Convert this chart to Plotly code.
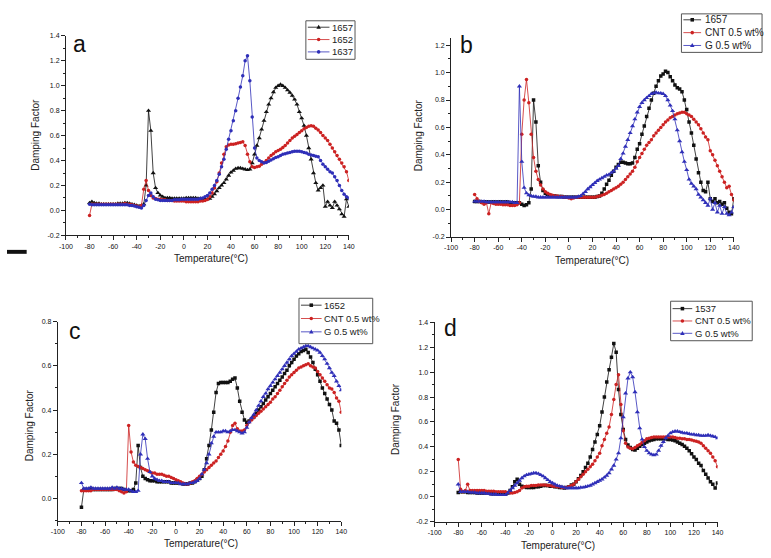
import plotly.graph_objects as go

FONT = "Arial, Liberation Sans, sans-serif"

TEMPS = [-80, -78, -76, -74, -72, -70, -68, -66, -64, -62,
         -60, -58, -56, -54, -52, -50, -48, -46, -44, -42,
         -40, -38, -36, -34, -32, -30, -28, -26, -24, -22,
         -20, -18, -16, -14, -12, -10, -8, -6, -4, -2,
         0, 2, 4, 6, 8, 10, 12, 14, 16, 18,
         20, 22, 24, 26, 28, 30, 32, 34, 36, 38,
         40, 42, 44, 46, 48, 50, 52, 54, 56, 58,
         60, 62, 64, 66, 68, 70, 72, 74, 76, 78,
         80, 82, 84, 86, 88, 90, 92, 94, 96, 98,
         100, 102, 104, 106, 108, 110, 112, 114, 116, 118,
         120, 122, 124, 126, 128, 130, 132, 134, 136, 138,
         140]

# ---- panel a ----
A_1657 = [0.06, 0.07, 0.06, 0.055, 0.055, 0.05, 0.05, 0.05, 0.05, 0.05,
          0.05, 0.05, 0.055, 0.055, 0.055, 0.06, 0.06, 0.055, 0.05, 0.045,
          0.04, 0.035, 0.04, 0.05, 0.2, 0.8, 0.64, 0.3, 0.18, 0.14,
          0.12, 0.11, 0.1, 0.1, 0.1, 0.095, 0.095, 0.095, 0.095, 0.095,
          0.095, 0.1, 0.1, 0.1, 0.1, 0.1, 0.095, 0.095, 0.09, 0.09,
          0.09, 0.095, 0.11, 0.13, 0.155, 0.18, 0.2, 0.22, 0.25, 0.28,
          0.305, 0.32, 0.335, 0.34, 0.34, 0.335, 0.33, 0.325, 0.33, 0.38,
          0.45, 0.52, 0.58, 0.65, 0.72, 0.79, 0.85, 0.9, 0.95, 0.985,
          1.0, 1.01, 1.0, 0.985, 0.965, 0.945, 0.92, 0.89, 0.85, 0.79,
          0.74, 0.68, 0.6, 0.5, 0.41, 0.3, 0.22, 0.16, 0.18, 0.2,
          0.03, 0.07, 0.04, 0.02, 0.07, 0.04, 0.01, -0.03, -0.05, 0.09,
          0.03]
A_1652 = [-0.04, 0.05, 0.05, 0.05, 0.05, 0.05, 0.05, 0.05, 0.05, 0.05,
          0.05, 0.05, 0.05, 0.05, 0.05, 0.055, 0.05, 0.05, 0.045, 0.04,
          0.035, 0.03, 0.04, 0.17, 0.24, 0.16, 0.12, 0.1, 0.095, 0.09,
          0.09, 0.085, 0.085, 0.08, 0.08, 0.08, 0.075, 0.075, 0.075, 0.075,
          0.075, 0.07, 0.07, 0.07, 0.07, 0.07, 0.07, 0.075, 0.075, 0.08,
          0.087, 0.11, 0.14, 0.18, 0.23, 0.3, 0.38, 0.45, 0.51, 0.525,
          0.53, 0.53, 0.535, 0.54, 0.545, 0.55, 0.52, 0.45, 0.39, 0.35,
          0.345, 0.35, 0.355, 0.37, 0.385, 0.4, 0.42, 0.44, 0.455, 0.47,
          0.48, 0.49, 0.505, 0.52, 0.54, 0.56, 0.58, 0.595, 0.61, 0.625,
          0.64, 0.655, 0.665, 0.675, 0.68, 0.675, 0.66, 0.645, 0.625, 0.6,
          0.58, 0.56, 0.53, 0.5, 0.47, 0.44, 0.41, 0.38, 0.35, 0.31,
          0.24]
A_1637 = [0.05, 0.045, 0.045, 0.045, 0.045, 0.045, 0.045, 0.045, 0.045, 0.045,
          0.045, 0.045, 0.045, 0.045, 0.045, 0.045, 0.045, 0.04, 0.04, 0.035,
          0.03, 0.025, 0.02, 0.04, 0.08, 0.12, 0.14, 0.11, 0.09, 0.085,
          0.08, 0.08, 0.08, 0.08, 0.08, 0.08, 0.085, 0.085, 0.085, 0.09,
          0.09, 0.09, 0.09, 0.09, 0.09, 0.09, 0.09, 0.095, 0.1, 0.11,
          0.12, 0.14, 0.17, 0.2, 0.24, 0.29, 0.35, 0.41, 0.49, 0.57,
          0.64, 0.72, 0.8, 0.9, 0.99, 1.08, 1.2, 1.24, 1.04, 0.75,
          0.5, 0.42, 0.4, 0.39, 0.38, 0.385, 0.395, 0.405, 0.415, 0.425,
          0.43, 0.44, 0.45, 0.455, 0.46, 0.465, 0.47, 0.475, 0.475, 0.475,
          0.47, 0.465, 0.46, 0.45, 0.445, 0.44, 0.435, 0.43, 0.4, 0.37,
          0.35, 0.33, 0.31, 0.3, 0.27, 0.24, 0.2, 0.16, 0.13, 0.11,
          0.1]

# ---- panel b ----
B_1657 = [0.06, 0.06, 0.06, 0.055, 0.055, 0.055, 0.055, 0.055, 0.055, 0.055,
          0.055, 0.055, 0.055, 0.055, 0.055, 0.05, 0.05, 0.05, 0.05, 0.05,
          0.04, 0.03, 0.035, 0.05, 0.15, 0.8, 0.64, 0.32, 0.2, 0.14,
          0.12, 0.11, 0.105, 0.1, 0.1, 0.095, 0.095, 0.095, 0.09, 0.09,
          0.09, 0.09, 0.09, 0.09, 0.09, 0.09, 0.09, 0.09, 0.09, 0.09,
          0.09, 0.09, 0.095, 0.1, 0.12, 0.15, 0.185, 0.215, 0.25, 0.28,
          0.31, 0.33, 0.345, 0.345, 0.34, 0.335, 0.335, 0.34, 0.38, 0.44,
          0.48, 0.55, 0.61, 0.68, 0.74, 0.8, 0.85, 0.9, 0.94, 0.975,
          0.99, 1.01, 1.0, 0.97, 0.94, 0.91, 0.89, 0.88, 0.86, 0.8,
          0.73, 0.64, 0.56, 0.47, 0.37, 0.27, 0.2, 0.14, 0.13, 0.2,
          0.08, 0.06, 0.08, 0.05, 0.06, 0.04, 0.05, 0.01, -0.02, -0.03,
          0.08]
B_CNT = [0.11, 0.08, 0.06, 0.05, 0.04, 0.05, -0.03, 0.05, 0.045, 0.04,
         0.04, 0.04, 0.035, 0.035, 0.035, 0.03, 0.03, 0.03, 0.035, 0.05,
         0.55, 0.8, 0.95, 0.78, 0.55, 0.38, 0.28, 0.22, 0.18, 0.15,
         0.13, 0.12, 0.11, 0.105, 0.1, 0.1, 0.095, 0.095, 0.09, 0.09,
         0.085, 0.08, 0.085, 0.09, 0.09, 0.09, 0.09, 0.09, 0.09, 0.09,
         0.09, 0.09, 0.095, 0.1, 0.105, 0.11, 0.12, 0.13, 0.14, 0.15,
         0.16, 0.17, 0.185, 0.2, 0.22, 0.24, 0.26, 0.28, 0.31, 0.35,
         0.38, 0.41, 0.44, 0.47, 0.49, 0.51, 0.54, 0.56, 0.58, 0.6,
         0.62, 0.64, 0.655, 0.67, 0.68, 0.69, 0.7, 0.705, 0.71, 0.71,
         0.7, 0.69, 0.68, 0.66, 0.64, 0.62, 0.59, 0.56, 0.53, 0.51,
         0.43, 0.4, 0.36, 0.32, 0.28, 0.24, 0.2, 0.16, 0.17, 0.11,
         0.07]
B_G = [0.06, 0.06, 0.06, 0.06, 0.06, 0.055, 0.055, 0.055, 0.055, 0.055,
       0.055, 0.055, 0.055, 0.055, 0.055, 0.055, 0.055, 0.05, 0.05, 0.9,
       0.35, 0.16, 0.12, 0.105, 0.1, 0.095, 0.095, 0.09, 0.09, 0.09,
       0.09, 0.09, 0.09, 0.09, 0.09, 0.09, 0.09, 0.09, 0.09, 0.09,
       0.09, 0.09, 0.09, 0.09, 0.095, 0.1, 0.115, 0.13, 0.15, 0.165,
       0.18, 0.195, 0.21, 0.22, 0.23, 0.24, 0.25, 0.255, 0.27, 0.28,
       0.3, 0.32, 0.37, 0.41, 0.46, 0.51, 0.56, 0.61, 0.66, 0.71,
       0.75, 0.78, 0.8, 0.815, 0.83, 0.845, 0.85, 0.855, 0.85, 0.85,
       0.845, 0.83, 0.8, 0.76, 0.72, 0.66, 0.58, 0.5, 0.42, 0.35,
       0.29, 0.22, 0.19, 0.17, 0.15, 0.11, 0.09, 0.07, 0.05, 0.03,
       0.08, 0.0, 0.05, -0.02, 0.03, -0.03, 0.02, -0.03, -0.04, -0.02,
       0.02]

# ---- panel c ----
C_1652 = [-0.04, 0.04, 0.04, 0.04, 0.045, 0.04, 0.04, 0.04, 0.04, 0.04,
          0.04, 0.04, 0.04, 0.04, 0.045, 0.045, 0.045, 0.045, 0.04, 0.035,
          0.035, 0.035, 0.04, 0.07, 0.24, 0.14, 0.1, 0.09, 0.085, 0.08,
          0.08, 0.08, 0.075, 0.075, 0.075, 0.075, 0.075, 0.075, 0.07, 0.07,
          0.07, 0.07, 0.07, 0.065, 0.065, 0.065, 0.07, 0.07, 0.075, 0.085,
          0.09, 0.1, 0.13, 0.18, 0.24, 0.31, 0.39, 0.48, 0.52, 0.525,
          0.525, 0.525, 0.525, 0.53, 0.54, 0.545, 0.5, 0.44, 0.39, 0.355,
          0.345, 0.35, 0.36, 0.37, 0.385, 0.4, 0.415, 0.43, 0.445, 0.46,
          0.475, 0.49, 0.505, 0.52, 0.535, 0.55, 0.565, 0.58, 0.6, 0.615,
          0.63, 0.645, 0.655, 0.665, 0.67, 0.675, 0.66, 0.64, 0.615, 0.585,
          0.56, 0.53, 0.5, 0.475, 0.45, 0.425, 0.4, 0.35, 0.34, 0.31,
          0.24]
C_CNT = [0.035, 0.035, 0.035, 0.035, 0.035, 0.04, 0.04, 0.04, 0.04, 0.04,
         0.04, 0.04, 0.04, 0.04, 0.04, 0.04, 0.035, 0.03, 0.025, 0.03,
         0.33, 0.21, 0.165, 0.15, 0.145, 0.14, 0.135, 0.13, 0.125, 0.12,
         0.115, 0.115, 0.11, 0.11, 0.11, 0.105, 0.1, 0.1, 0.095, 0.09,
         0.085, 0.08, 0.075, 0.07, 0.065, 0.065, 0.07, 0.075, 0.08, 0.09,
         0.1, 0.11, 0.12, 0.13, 0.14, 0.15, 0.16, 0.17, 0.185, 0.2,
         0.215, 0.235, 0.26, 0.3, 0.33, 0.34, 0.315, 0.305, 0.305, 0.31,
         0.33, 0.345, 0.355, 0.365, 0.375, 0.385, 0.395, 0.405, 0.415, 0.425,
         0.435, 0.45, 0.46, 0.475, 0.49, 0.505, 0.52, 0.535, 0.55, 0.56,
         0.57, 0.58, 0.59, 0.595, 0.6, 0.605, 0.61, 0.6, 0.595, 0.59,
         0.575, 0.56, 0.545, 0.53, 0.515, 0.5, 0.495, 0.48, 0.455, 0.44,
         0.39]
C_G = [0.07, 0.045, 0.045, 0.045, 0.05, 0.045, 0.045, 0.045, 0.045, 0.045,
       0.045, 0.045, 0.045, 0.05, 0.045, 0.05, 0.045, 0.045, 0.04, 0.04,
       0.04, 0.035, 0.03, 0.03, 0.035, 0.2, 0.29, 0.27, 0.18, 0.12,
       0.1, 0.09, 0.085, 0.08, 0.08, 0.075, 0.075, 0.075, 0.07, 0.07,
       0.07, 0.07, 0.065, 0.065, 0.065, 0.065, 0.07, 0.07, 0.075, 0.08,
       0.09, 0.11, 0.13, 0.16, 0.2, 0.25, 0.28, 0.3, 0.3, 0.3,
       0.305, 0.305, 0.3, 0.305, 0.31, 0.31, 0.305, 0.3, 0.295, 0.3,
       0.32, 0.345, 0.365, 0.38, 0.4, 0.42, 0.44, 0.46, 0.475, 0.495,
       0.51, 0.525, 0.54, 0.555, 0.57, 0.585, 0.6, 0.615, 0.63, 0.645,
       0.655, 0.665, 0.675, 0.68, 0.685, 0.69, 0.69, 0.685, 0.68, 0.675,
       0.67, 0.66, 0.645, 0.63, 0.61, 0.59, 0.57, 0.555, 0.53, 0.51,
       0.49]

# ---- panel d ----
D_1537 = [0.035, 0.04, 0.04, 0.04, 0.035, 0.035, 0.035, 0.035, 0.03, 0.03,
          0.03, 0.03, 0.03, 0.03, 0.025, 0.025, 0.025, 0.025, 0.02, 0.02,
          0.02, 0.03, 0.05, 0.08, 0.12, 0.14, 0.1, 0.085, 0.08, 0.075,
          0.075, 0.075, 0.075, 0.08, 0.08, 0.085, 0.09, 0.09, 0.09, 0.085,
          0.085, 0.08, 0.08, 0.075, 0.075, 0.07, 0.075, 0.08, 0.095, 0.1,
          0.12, 0.145, 0.17, 0.2, 0.235, 0.27, 0.32, 0.38, 0.44, 0.5,
          0.57, 0.68, 0.8, 0.92, 1.02, 1.12, 1.23, 1.16, 0.86, 0.66,
          0.54, 0.46, 0.415, 0.395, 0.38, 0.375, 0.39, 0.405, 0.42, 0.43,
          0.44, 0.45, 0.455, 0.46, 0.465, 0.465, 0.465, 0.465, 0.465, 0.46,
          0.46, 0.455, 0.45, 0.44, 0.43, 0.42, 0.405, 0.39, 0.37, 0.345,
          0.32, 0.3, 0.27, 0.25, 0.21, 0.18, 0.15, 0.12, 0.1, 0.07,
          0.11]
D_CNT = [0.3, 0.06, 0.04, 0.05, 0.1, 0.05, 0.05, 0.05, 0.05, 0.05,
         0.05, 0.05, 0.045, 0.045, 0.045, 0.045, 0.04, 0.04, 0.04, 0.04,
         0.04, 0.035, 0.03, 0.03, 0.035, 0.04, 0.05, 0.07, 0.08, 0.085,
         0.085, 0.09, 0.09, 0.09, 0.095, 0.095, 0.095, 0.095, 0.09, 0.09,
         0.085, 0.085, 0.08, 0.08, 0.075, 0.075, 0.075, 0.08, 0.09, 0.1,
         0.12, 0.14, 0.16, 0.18, 0.2, 0.22, 0.24, 0.26, 0.29, 0.32,
         0.35, 0.41, 0.46, 0.51, 0.56, 0.66, 0.78, 0.9, 0.98, 0.74,
         0.53, 0.43, 0.4, 0.39, 0.385, 0.395, 0.41, 0.42, 0.435, 0.45,
         0.465, 0.47, 0.475, 0.48, 0.48, 0.48, 0.48, 0.48, 0.48, 0.48,
         0.48, 0.48, 0.475, 0.47, 0.47, 0.465, 0.465, 0.46, 0.46, 0.455,
         0.45, 0.445, 0.44, 0.43, 0.41, 0.39, 0.37, 0.35, 0.32, 0.29,
         0.24]
D_G = [0.1, 0.04, 0.04, 0.04, 0.04, 0.035, 0.035, 0.035, 0.03, 0.03,
       0.03, 0.03, 0.025, 0.025, 0.02, 0.02, 0.02, 0.015, 0.015, 0.015,
       0.015, 0.03, 0.05, 0.07, 0.09, 0.11, 0.13, 0.15, 0.165, 0.175,
       0.18, 0.185, 0.19, 0.19, 0.185, 0.175, 0.165, 0.15, 0.135, 0.12,
       0.11, 0.1, 0.09, 0.085, 0.08, 0.075, 0.07, 0.07, 0.07, 0.07,
       0.07, 0.07, 0.075, 0.075, 0.08, 0.085, 0.09, 0.1, 0.11, 0.12,
       0.13, 0.14, 0.155, 0.17, 0.19, 0.22, 0.25, 0.3, 0.35, 0.47,
       0.64, 0.83, 0.95, 1.0, 0.96, 0.84, 0.68, 0.55, 0.46, 0.4,
       0.37, 0.35, 0.34, 0.335, 0.34, 0.37, 0.41, 0.44, 0.47, 0.49,
       0.51, 0.52, 0.525, 0.525, 0.52, 0.515, 0.51, 0.51, 0.505, 0.5,
       0.5, 0.495, 0.495, 0.49, 0.49, 0.49, 0.495, 0.49, 0.485, 0.48,
       0.47]

X_TICKS = [-100, -80, -60, -40, -20, 0, 20, 40, 60, 80, 100, 120, 140]
X_TICK_LABELS = ["-100", "-80", "-60", "-40", "-20", "0", "20", "40", "60", "80", "100", "120", "140"]
Y_TICKS_A = [-0.2, 0.0, 0.2, 0.4, 0.6, 0.8, 1.0, 1.2, 1.4]
Y_LABELS_A = ["-0.2", "0.0", "0.2", "0.4", "0.6", "0.8", "1.0", "1.2", "1.4"]
Y_TICKS_B = [-0.2, 0.0, 0.2, 0.4, 0.6, 0.8, 1.0, 1.2]
Y_LABELS_B = ["-0.2", "0.0", "0.2", "0.4", "0.6", "0.8", "1.0", "1.2"]
Y_TICKS_C = [0.0, 0.2, 0.4, 0.6, 0.8]
Y_LABELS_C = ["0.0", "0.2", "0.4", "0.6", "0.8"]

BLACK = "#111111"
RED = "#cc2222"
BLUE = "#2f2fb8"

PANELS = [
    dict(letter="a", ax="",
         series=[("1657", A_1657, BLACK, "triangle-up"),
                 ("1652", A_1652, RED, "circle"),
                 ("1637", A_1637, BLUE, "circle")]),
    dict(letter="b", ax="2",
         series=[("1657", B_1657, BLACK, "square"),
                 ("CNT 0.5 wt%", B_CNT, RED, "circle"),
                 ("G 0.5 wt%", B_G, BLUE, "triangle-up")]),
    dict(letter="c", ax="3",
         series=[("1652", C_1652, BLACK, "square"),
                 ("CNT 0.5 wt%", C_CNT, RED, "circle"),
                 ("G 0.5 wt%", C_G, BLUE, "triangle-up")]),
    dict(letter="d", ax="4",
         series=[("1537", D_1537, BLACK, "square"),
                 ("CNT 0.5 wt%", D_CNT, RED, "circle"),
                 ("G 0.5 wt%", D_G, BLUE, "triangle-up")]),
]

fig = go.Figure()
for p in PANELS:
    for name, vals, col, sym in p["series"]:
        fig.add_trace(go.Scatter(
            x=TEMPS, y=vals, name=name, mode="lines+markers", showlegend=False,
            xaxis="x" + p["ax"], yaxis="y" + p["ax"],
            line=dict(color=col, width=0.8),
            marker=dict(color=col, symbol=sym, size=3.5 if sym != "triangle-up" else 4.5,
                        line=dict(width=0)),
        ))

W, H = 771.0, 558.0


def px_x(v):
    return v / W


def px_y(v):
    return 1 - v / H


TICKFONT = dict(size=7, color="#111", family=FONT)


def xaxis(x0, x1, anchor):
    return dict(domain=[px_x(x0), px_x(x1)], range=[-100, 140], anchor=anchor,
                tickvals=X_TICKS, ticktext=X_TICK_LABELS,
                showline=True, linecolor="#222", linewidth=1, mirror=False,
                showgrid=False, zeroline=False, ticks="outside", ticklen=4,
                tickcolor="#222", tickfont=TICKFONT,
                minor=dict(ticks="outside", ticklen=2, dtick=10, tick0=0, tickcolor="#222"))


def yaxis(y_bot, y_top, rng, tv, tt, anchor):
    return dict(domain=[px_y(y_bot), px_y(y_top)], range=rng, anchor=anchor,
                tickvals=tv, ticktext=tt,
                showline=True, linecolor="#222", linewidth=1, mirror=False,
                showgrid=False, zeroline=False, ticks="outside", ticklen=4,
                tickcolor="#222", tickfont=TICKFONT,
                minor=dict(ticks="outside", ticklen=2, dtick=0.1, tick0=0, tickcolor="#222"))


annotations = []
shapes = []

# legend boxes drawn per panel: (box x0, y0, x1, y1), line x0, x1, text x, row ys, font size
LEGEND_GEOM = [
    dict(box=(304, 17, 354, 56), lx=(306, 328), tx=329, rows=(23.5, 36, 48.5), fs=9.5),
    dict(box=(686, 10, 768, 49), lx=(688, 706), tx=708, rows=(16, 29, 42), fs=10),
    dict(box=(297, 298, 372, 344), lx=(299, 320), tx=320, rows=(305, 318.5, 332), fs=9.5),
    dict(box=(675, 301, 758, 341), lx=(677, 697), tx=698, rows=(308.5, 321, 333.5), fs=9.5),
]

for p, g in zip(PANELS, LEGEND_GEOM):
    bx0, by0, bx1, by1 = g["box"]
    shapes.append(dict(type="rect", xref="paper", yref="paper",
                       x0=px_x(bx0), x1=px_x(bx1), y0=px_y(by1), y1=px_y(by0),
                       fillcolor="white", line=dict(color="#555", width=1)))
    for (name, vals, col, sym), ry in zip(p["series"], g["rows"]):
        lx0, lx1 = g["lx"]
        shapes.append(dict(type="line", xref="paper", yref="paper",
                           x0=px_x(lx0), x1=px_x(lx1), y0=px_y(ry), y1=px_y(ry),
                           line=dict(color=col, width=0.8)))
        cx = (lx0 + lx1) / 2.0
        r = 1.8
        if sym == "circle":
            shapes.append(dict(type="circle", xref="paper", yref="paper",
                               x0=px_x(cx - r), x1=px_x(cx + r), y0=px_y(ry + r), y1=px_y(ry - r),
                               fillcolor=col, line=dict(width=0)))
        elif sym == "square":
            shapes.append(dict(type="rect", xref="paper", yref="paper",
                               x0=px_x(cx - r), x1=px_x(cx + r), y0=px_y(ry + r), y1=px_y(ry - r),
                               fillcolor=col, line=dict(width=0)))
        else:
            path = "M %f,%f L %f,%f L %f,%f Z" % (
                px_x(cx), px_y(ry - 2.4), px_x(cx - 2.3), px_y(ry + 1.6), px_x(cx + 2.3), px_y(ry + 1.6))
            shapes.append(dict(type="path", xref="paper", yref="paper", path=path,
                               fillcolor=col, line=dict(width=0)))
        annotations.append(dict(text=name, x=px_x(g["tx"]), y=px_y(ry), xref="paper", yref="paper",
                                showarrow=False, xanchor="left", yanchor="middle",
                                font=dict(size=g["fs"], color="#222", family=FONT)))

letters = [("a", 74, 41), ("b", 467, 42), ("c", 69, 331), ("d", 451, 328)]
for t, x, y in letters:
    annotations.append(dict(text=t, x=px_x(x), y=px_y(y), xref="paper", yref="paper",
                            showarrow=False, xanchor="center", yanchor="middle",
                            font=dict(size=23, color="#111", family=FONT)))
ytitles = [(29, 133), (418, 133), (23, 427), (395, 420)]
for x, y in ytitles:
    annotations.append(dict(text="Damping Factor", x=px_x(x), y=px_y(y), xref="paper", yref="paper",
                            showarrow=False, textangle=-90, xanchor="center", yanchor="middle",
                            font=dict(size=10, color="#222", family=FONT)))
xtitles = [(207, 258), (595, 260), (197, 546), (560, 548)]
for x, y in xtitles:
    annotations.append(dict(text="Temperature(°C)", x=px_x(x), y=px_y(y), xref="paper", yref="paper",
                            showarrow=False, xanchor="center", yanchor="middle",
                            font=dict(size=10, color="#222", family=FONT)))

shapes.append(dict(type="rect", xref="paper", yref="paper", x0=0, x1=px_x(20),
                   y0=px_y(253), y1=px_y(249), fillcolor="#111", line=dict(width=0)))

fig.update_layout(
    width=771, height=558, margin=dict(l=0, r=0, t=0, b=0),
    paper_bgcolor="white", plot_bgcolor="white", showlegend=False,
    xaxis=xaxis(60, 347.7, "y"),
    yaxis=yaxis(234.3, 32.3, [-0.2001, 1.4001], Y_TICKS_A, Y_LABELS_A, "x"),
    xaxis2=xaxis(451.7, 739.3, "y2"),
    yaxis2=yaxis(236, 34.8, [-0.2001, 1.25], Y_TICKS_B, Y_LABELS_B, "x2"),
    xaxis3=xaxis(51.7, 340, "y3"),
    yaxis3=yaxis(523.1, 321.7, [-0.1, 0.8001], Y_TICKS_C, Y_LABELS_C, "x3"),
    xaxis4=xaxis(435, 722.7, "y4"),
    yaxis4=yaxis(524.3, 322.3, [-0.2001, 1.4001], Y_TICKS_A, Y_LABELS_A, "x4"),
    annotations=annotations,
    shapes=shapes,
)

fig.write_html("out.html")
